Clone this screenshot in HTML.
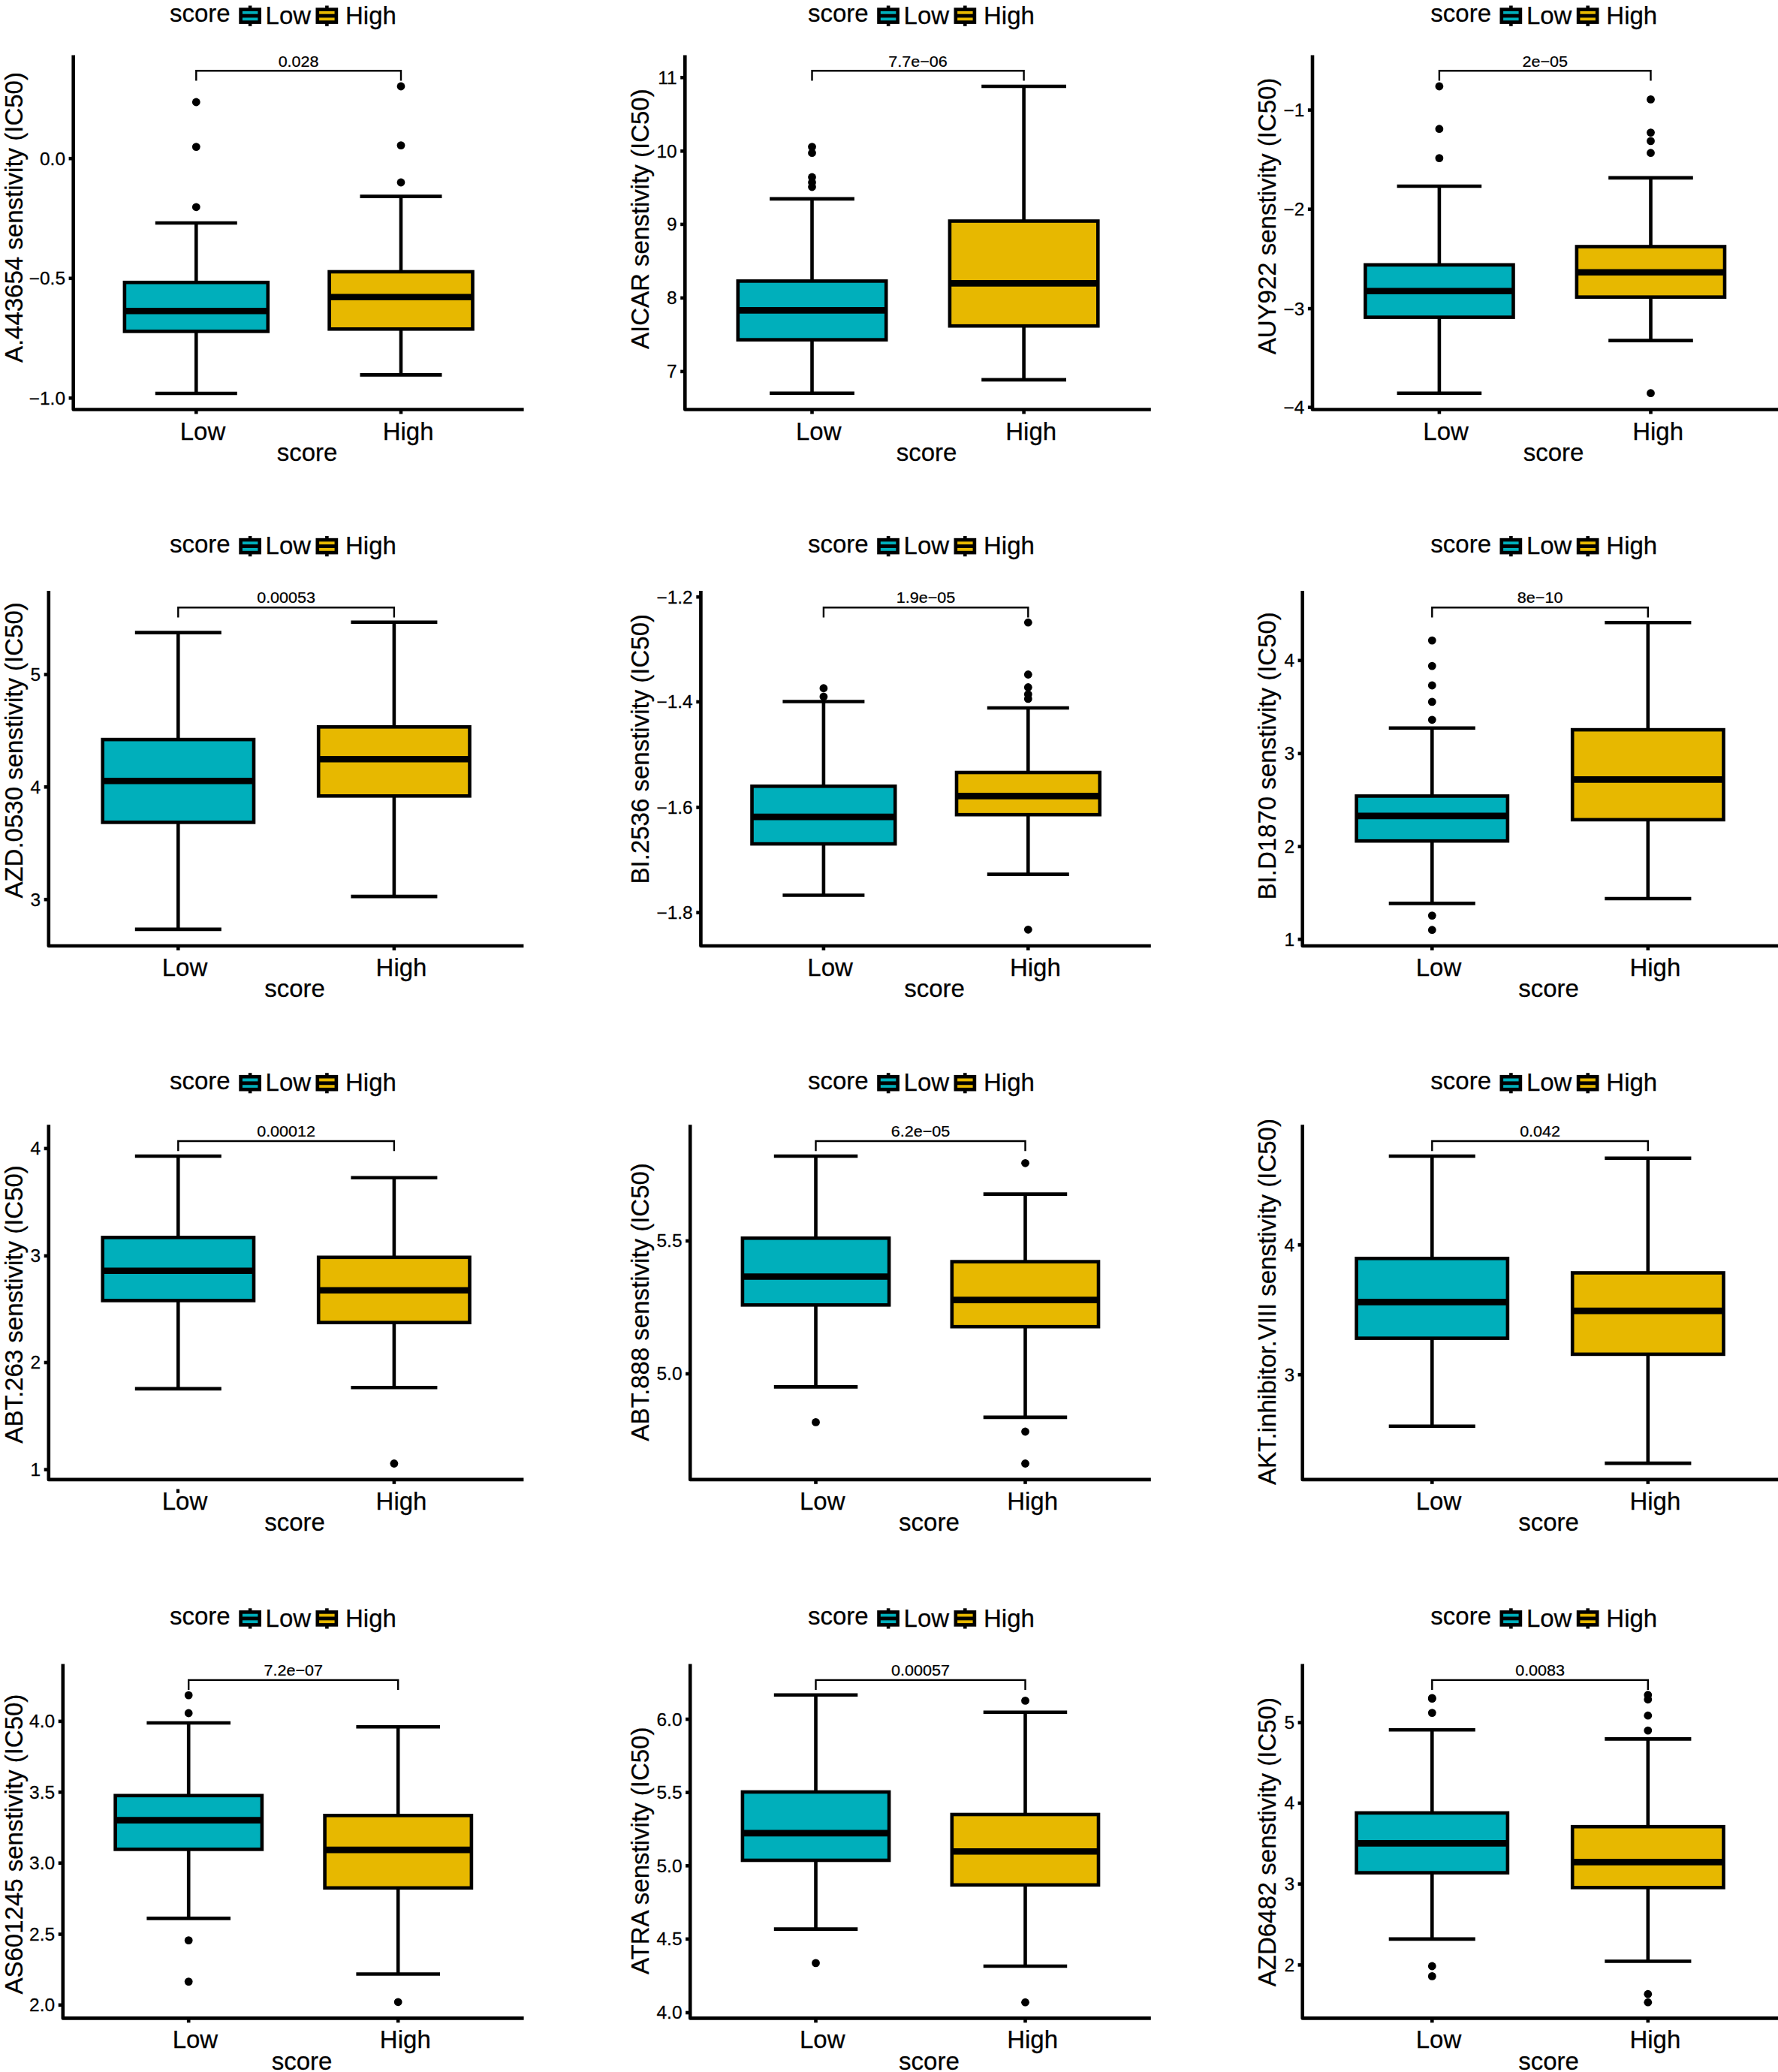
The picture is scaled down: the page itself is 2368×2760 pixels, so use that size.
<!DOCTYPE html>
<html><head><meta charset="utf-8"><title>Drug sensitivity boxplots</title>
<style>
html,body{margin:0;padding:0;background:#fff}
svg{display:block}
svg text{font-family:"Liberation Sans",Arial,Helvetica,sans-serif;fill:#000;stroke:#000;stroke-width:0.25px}
</style></head><body>
<svg width="2368" height="2760" viewBox="0 0 2368 2760">
<rect x="0" y="0" width="2368" height="2760" fill="#fff"/>
<g stroke="#000">
<g>
<text x="226" y="29.1" font-size="33">score</text>
<line x1="333.1" y1="7.5" x2="333.1" y2="12.6" stroke-width="4.6"/>
<line x1="333.1" y1="29.6" x2="333.1" y2="34.8" stroke-width="4.6"/>
<rect x="320.6" y="12.6" width="25.1" height="17" fill="#00AFBB" stroke-width="4.6"/>
<line x1="320.6" y1="21.1" x2="345.7" y2="21.1" stroke-width="4.8"/>
<text x="353.6" y="31.8" font-size="33">Low</text>
<line x1="435.4" y1="7.5" x2="435.4" y2="12.6" stroke-width="4.6"/>
<line x1="435.4" y1="29.6" x2="435.4" y2="34.8" stroke-width="4.6"/>
<rect x="422.8" y="12.6" width="25.1" height="17" fill="#E7B800" stroke-width="4.6"/>
<line x1="422.8" y1="21.1" x2="447.9" y2="21.1" stroke-width="4.8"/>
<text x="460" y="31.8" font-size="33">High</text>
<text transform="translate(30 289.6) rotate(-90)" font-size="33" text-anchor="middle">A.443654 senstivity (IC50)</text>
<line x1="261.3" y1="297" x2="261.3" y2="376.2" stroke-width="4.6"/>
<line x1="261.3" y1="441.4" x2="261.3" y2="524" stroke-width="4.6"/>
<line x1="206.8" y1="297" x2="315.8" y2="297" stroke-width="4.6"/>
<line x1="206.8" y1="524" x2="315.8" y2="524" stroke-width="4.6"/>
<rect x="165.9" y="376.2" width="190.9" height="65.2" fill="#00AFBB" stroke-width="4.6"/>
<line x1="165.9" y1="414.2" x2="356.7" y2="414.2" stroke-width="8.6"/>
<circle cx="261.3" cy="136" r="5.4" fill="#000" stroke="none"/>
<circle cx="261.3" cy="195.6" r="5.4" fill="#000" stroke="none"/>
<circle cx="261.3" cy="275.8" r="5.4" fill="#000" stroke="none"/>
<line x1="534" y1="261.6" x2="534" y2="362" stroke-width="4.6"/>
<line x1="534" y1="438.3" x2="534" y2="499.4" stroke-width="4.6"/>
<line x1="479.5" y1="261.6" x2="588.5" y2="261.6" stroke-width="4.6"/>
<line x1="479.5" y1="499.4" x2="588.5" y2="499.4" stroke-width="4.6"/>
<rect x="438.6" y="362" width="190.9" height="76.3" fill="#E7B800" stroke-width="4.6"/>
<line x1="438.6" y1="395.8" x2="629.4" y2="395.8" stroke-width="8.6"/>
<circle cx="534" cy="115" r="5.4" fill="#000" stroke="none"/>
<circle cx="534" cy="193.6" r="5.4" fill="#000" stroke="none"/>
<circle cx="534" cy="243" r="5.4" fill="#000" stroke="none"/>
<path d="M97.7 73.4V545.5H697.6" fill="none" stroke-width="4.6" stroke-linejoin="round"/>
<line x1="91.6" y1="211.2" x2="97.7" y2="211.2" stroke-width="4.6"/>
<text transform="translate(87 219.6) scale(1.05 1)" font-size="23.3" text-anchor="end">0.0</text>
<line x1="91.6" y1="370.8" x2="97.7" y2="370.8" stroke-width="4.6"/>
<text transform="translate(87 379.2) scale(1.05 1)" font-size="23.3" text-anchor="end">−0.5</text>
<line x1="91.6" y1="530.3" x2="97.7" y2="530.3" stroke-width="4.6"/>
<text transform="translate(87 538.7) scale(1.05 1)" font-size="23.3" text-anchor="end">−1.0</text>
<line x1="261.3" y1="545.5" x2="261.3" y2="551.4" stroke-width="4.6"/>
<line x1="534" y1="545.5" x2="534" y2="551.4" stroke-width="4.6"/>
<text x="270" y="585.9" font-size="33" text-anchor="middle">Low</text>
<text x="543.6" y="585.9" font-size="33" text-anchor="middle">High</text>
<text x="409.1" y="613.8" font-size="33" text-anchor="middle">score</text>
<path d="M261.3 107.4V94.2H534V107.4" fill="none" stroke-width="2.4"/>
<text transform="translate(397.6 89.4) scale(1.027 1)" font-size="21" text-anchor="middle">0.028</text>
</g>
<g>
<text x="1076" y="29.1" font-size="33">score</text>
<line x1="1183.1" y1="7.5" x2="1183.1" y2="12.6" stroke-width="4.6"/>
<line x1="1183.1" y1="29.6" x2="1183.1" y2="34.8" stroke-width="4.6"/>
<rect x="1170.5" y="12.6" width="25.1" height="17" fill="#00AFBB" stroke-width="4.6"/>
<line x1="1170.5" y1="21.1" x2="1195.7" y2="21.1" stroke-width="4.8"/>
<text x="1203.6" y="31.8" font-size="33">Low</text>
<line x1="1285.3" y1="7.5" x2="1285.3" y2="12.6" stroke-width="4.6"/>
<line x1="1285.3" y1="29.6" x2="1285.3" y2="34.8" stroke-width="4.6"/>
<rect x="1272.8" y="12.6" width="25.1" height="17" fill="#E7B800" stroke-width="4.6"/>
<line x1="1272.8" y1="21.1" x2="1297.9" y2="21.1" stroke-width="4.8"/>
<text x="1310" y="31.8" font-size="33">High</text>
<text transform="translate(864.4 291.6) rotate(-90)" font-size="33" text-anchor="middle">AICAR senstivity (IC50)</text>
<line x1="1081.5" y1="264.9" x2="1081.5" y2="374.4" stroke-width="4.6"/>
<line x1="1081.5" y1="452.6" x2="1081.5" y2="523.7" stroke-width="4.6"/>
<line x1="1025.1" y1="264.9" x2="1137.9" y2="264.9" stroke-width="4.6"/>
<line x1="1025.1" y1="523.7" x2="1137.9" y2="523.7" stroke-width="4.6"/>
<rect x="982.8" y="374.4" width="197.4" height="78.2" fill="#00AFBB" stroke-width="4.6"/>
<line x1="982.8" y1="413.4" x2="1180.2" y2="413.4" stroke-width="8.6"/>
<circle cx="1081.5" cy="195.6" r="5.4" fill="#000" stroke="none"/>
<circle cx="1081.5" cy="203.7" r="5.4" fill="#000" stroke="none"/>
<circle cx="1081.5" cy="236" r="5.4" fill="#000" stroke="none"/>
<circle cx="1081.5" cy="243" r="5.4" fill="#000" stroke="none"/>
<circle cx="1081.5" cy="249" r="5.4" fill="#000" stroke="none"/>
<line x1="1363.6" y1="115" x2="1363.6" y2="294.5" stroke-width="4.6"/>
<line x1="1363.6" y1="434.2" x2="1363.6" y2="505.9" stroke-width="4.6"/>
<line x1="1307.2" y1="115" x2="1420" y2="115" stroke-width="4.6"/>
<line x1="1307.2" y1="505.9" x2="1420" y2="505.9" stroke-width="4.6"/>
<rect x="1264.9" y="294.5" width="197.4" height="139.7" fill="#E7B800" stroke-width="4.6"/>
<line x1="1264.9" y1="377.4" x2="1462.3" y2="377.4" stroke-width="8.6"/>
<path d="M912.3 73.4V545.5H1532.8" fill="none" stroke-width="4.6" stroke-linejoin="round"/>
<line x1="906.2" y1="103.3" x2="912.3" y2="103.3" stroke-width="4.6"/>
<text transform="translate(901.6 111.7) scale(1.05 1)" font-size="23.3" text-anchor="end">11</text>
<line x1="906.2" y1="201.3" x2="912.3" y2="201.3" stroke-width="4.6"/>
<text transform="translate(901.6 209.7) scale(1.05 1)" font-size="23.3" text-anchor="end">10</text>
<line x1="906.2" y1="298.9" x2="912.3" y2="298.9" stroke-width="4.6"/>
<text transform="translate(901.6 307.3) scale(1.05 1)" font-size="23.3" text-anchor="end">9</text>
<line x1="906.2" y1="396.9" x2="912.3" y2="396.9" stroke-width="4.6"/>
<text transform="translate(901.6 405.3) scale(1.05 1)" font-size="23.3" text-anchor="end">8</text>
<line x1="906.2" y1="494.9" x2="912.3" y2="494.9" stroke-width="4.6"/>
<text transform="translate(901.6 503.3) scale(1.05 1)" font-size="23.3" text-anchor="end">7</text>
<line x1="1081.5" y1="545.5" x2="1081.5" y2="551.4" stroke-width="4.6"/>
<line x1="1363.6" y1="545.5" x2="1363.6" y2="551.4" stroke-width="4.6"/>
<text x="1090.2" y="585.9" font-size="33" text-anchor="middle">Low</text>
<text x="1373.2" y="585.9" font-size="33" text-anchor="middle">High</text>
<text x="1234" y="613.8" font-size="33" text-anchor="middle">score</text>
<path d="M1081.5 107.4V94.2H1363.6V107.4" fill="none" stroke-width="2.4"/>
<text transform="translate(1222.5 89.4) scale(1.027 1)" font-size="21" text-anchor="middle">7.7e−06</text>
</g>
<g>
<text x="1905.3" y="29.1" font-size="33">score</text>
<line x1="2012.4" y1="7.5" x2="2012.4" y2="12.6" stroke-width="4.6"/>
<line x1="2012.4" y1="29.6" x2="2012.4" y2="34.8" stroke-width="4.6"/>
<rect x="1999.8" y="12.6" width="25.1" height="17" fill="#00AFBB" stroke-width="4.6"/>
<line x1="1999.8" y1="21.1" x2="2025" y2="21.1" stroke-width="4.8"/>
<text x="2032.9" y="31.8" font-size="33">Low</text>
<line x1="2114.7" y1="7.5" x2="2114.7" y2="12.6" stroke-width="4.6"/>
<line x1="2114.7" y1="29.6" x2="2114.7" y2="34.8" stroke-width="4.6"/>
<rect x="2102.1" y="12.6" width="25.1" height="17" fill="#E7B800" stroke-width="4.6"/>
<line x1="2102.1" y1="21.1" x2="2127.2" y2="21.1" stroke-width="4.8"/>
<text x="2139.3" y="31.8" font-size="33">High</text>
<text transform="translate(1699.3 288) rotate(-90)" font-size="33" text-anchor="middle">AUY922 senstivity (IC50)</text>
<line x1="1916.9" y1="248" x2="1916.9" y2="352.8" stroke-width="4.6"/>
<line x1="1916.9" y1="422.6" x2="1916.9" y2="523.7" stroke-width="4.6"/>
<line x1="1860.6" y1="248" x2="1973.2" y2="248" stroke-width="4.6"/>
<line x1="1860.6" y1="523.7" x2="1973.2" y2="523.7" stroke-width="4.6"/>
<rect x="1818.4" y="352.8" width="197.1" height="69.8" fill="#00AFBB" stroke-width="4.6"/>
<line x1="1818.4" y1="387.8" x2="2015.5" y2="387.8" stroke-width="8.6"/>
<circle cx="1916.9" cy="115" r="5.4" fill="#000" stroke="none"/>
<circle cx="1916.9" cy="171.7" r="5.4" fill="#000" stroke="none"/>
<circle cx="1916.9" cy="210.6" r="5.4" fill="#000" stroke="none"/>
<line x1="2198.5" y1="236.9" x2="2198.5" y2="328.5" stroke-width="4.6"/>
<line x1="2198.5" y1="395.7" x2="2198.5" y2="453.6" stroke-width="4.6"/>
<line x1="2142.2" y1="236.9" x2="2254.8" y2="236.9" stroke-width="4.6"/>
<line x1="2142.2" y1="453.6" x2="2254.8" y2="453.6" stroke-width="4.6"/>
<rect x="2099.9" y="328.5" width="197.1" height="67.2" fill="#E7B800" stroke-width="4.6"/>
<line x1="2099.9" y1="362.8" x2="2297" y2="362.8" stroke-width="8.6"/>
<circle cx="2198.5" cy="132.4" r="5.4" fill="#000" stroke="none"/>
<circle cx="2198.5" cy="176.6" r="5.4" fill="#000" stroke="none"/>
<circle cx="2198.5" cy="187.9" r="5.4" fill="#000" stroke="none"/>
<circle cx="2198.5" cy="203.7" r="5.4" fill="#000" stroke="none"/>
<circle cx="2198.5" cy="523.7" r="5.4" fill="#000" stroke="none"/>
<path d="M1748 73.4V545.5H2368" fill="none" stroke-width="4.6" stroke-linejoin="round"/>
<line x1="1741.9" y1="146.6" x2="1748" y2="146.6" stroke-width="4.6"/>
<text transform="translate(1737.3 155) scale(1.05 1)" font-size="23.3" text-anchor="end">−1</text>
<line x1="1741.9" y1="278.7" x2="1748" y2="278.7" stroke-width="4.6"/>
<text transform="translate(1737.3 287.1) scale(1.05 1)" font-size="23.3" text-anchor="end">−2</text>
<line x1="1741.9" y1="411.1" x2="1748" y2="411.1" stroke-width="4.6"/>
<text transform="translate(1737.3 419.5) scale(1.05 1)" font-size="23.3" text-anchor="end">−3</text>
<line x1="1741.9" y1="542.7" x2="1748" y2="542.7" stroke-width="4.6"/>
<text transform="translate(1737.3 551.1) scale(1.05 1)" font-size="23.3" text-anchor="end">−4</text>
<line x1="1916.9" y1="545.5" x2="1916.9" y2="551.4" stroke-width="4.6"/>
<line x1="2198.5" y1="545.5" x2="2198.5" y2="551.4" stroke-width="4.6"/>
<text x="1925.6" y="585.9" font-size="33" text-anchor="middle">Low</text>
<text x="2208.1" y="585.9" font-size="33" text-anchor="middle">High</text>
<text x="2069.1" y="613.8" font-size="33" text-anchor="middle">score</text>
<path d="M1916.9 107.4V94.2H2198.5V107.4" fill="none" stroke-width="2.4"/>
<text transform="translate(2057.7 89.4) scale(1.027 1)" font-size="21" text-anchor="middle">2e−05</text>
</g>
<g>
<text x="226" y="735.6" font-size="33">score</text>
<line x1="333.1" y1="714" x2="333.1" y2="719.1" stroke-width="4.6"/>
<line x1="333.1" y1="736.1" x2="333.1" y2="741.2" stroke-width="4.6"/>
<rect x="320.6" y="719.1" width="25.1" height="17" fill="#00AFBB" stroke-width="4.6"/>
<line x1="320.6" y1="727.6" x2="345.7" y2="727.6" stroke-width="4.8"/>
<text x="353.6" y="738.3" font-size="33">Low</text>
<line x1="435.4" y1="714" x2="435.4" y2="719.1" stroke-width="4.6"/>
<line x1="435.4" y1="736.1" x2="435.4" y2="741.2" stroke-width="4.6"/>
<rect x="422.8" y="719.1" width="25.1" height="17" fill="#E7B800" stroke-width="4.6"/>
<line x1="422.8" y1="727.6" x2="447.9" y2="727.6" stroke-width="4.8"/>
<text x="460" y="738.3" font-size="33">High</text>
<text transform="translate(30 999.4) rotate(-90)" font-size="33" text-anchor="middle">AZD.0530 senstivity (IC50)</text>
<line x1="237.3" y1="842.6" x2="237.3" y2="985.1" stroke-width="4.6"/>
<line x1="237.3" y1="1095.4" x2="237.3" y2="1237.9" stroke-width="4.6"/>
<line x1="179.8" y1="842.6" x2="294.8" y2="842.6" stroke-width="4.6"/>
<line x1="179.8" y1="1237.9" x2="294.8" y2="1237.9" stroke-width="4.6"/>
<rect x="136.7" y="985.1" width="201.3" height="110.3" fill="#00AFBB" stroke-width="4.6"/>
<line x1="136.7" y1="1040.3" x2="338" y2="1040.3" stroke-width="8.6"/>
<line x1="524.9" y1="828.8" x2="524.9" y2="968.3" stroke-width="4.6"/>
<line x1="524.9" y1="1060.3" x2="524.9" y2="1194.1" stroke-width="4.6"/>
<line x1="467.4" y1="828.8" x2="582.4" y2="828.8" stroke-width="4.6"/>
<line x1="467.4" y1="1194.1" x2="582.4" y2="1194.1" stroke-width="4.6"/>
<rect x="424.2" y="968.3" width="201.3" height="92" fill="#E7B800" stroke-width="4.6"/>
<line x1="424.2" y1="1011.3" x2="625.5" y2="1011.3" stroke-width="8.6"/>
<path d="M64.8 787V1260H697.4" fill="none" stroke-width="4.6" stroke-linejoin="round"/>
<line x1="58.7" y1="898.5" x2="64.8" y2="898.5" stroke-width="4.6"/>
<text transform="translate(54.1 906.9) scale(1.05 1)" font-size="23.3" text-anchor="end">5</text>
<line x1="58.7" y1="1048.3" x2="64.8" y2="1048.3" stroke-width="4.6"/>
<text transform="translate(54.1 1056.7) scale(1.05 1)" font-size="23.3" text-anchor="end">4</text>
<line x1="58.7" y1="1198.2" x2="64.8" y2="1198.2" stroke-width="4.6"/>
<text transform="translate(54.1 1206.6) scale(1.05 1)" font-size="23.3" text-anchor="end">3</text>
<line x1="237.3" y1="1260" x2="237.3" y2="1265.9" stroke-width="4.6"/>
<line x1="524.9" y1="1260" x2="524.9" y2="1265.9" stroke-width="4.6"/>
<text x="246" y="1299.7" font-size="33" text-anchor="middle">Low</text>
<text x="534.5" y="1299.7" font-size="33" text-anchor="middle">High</text>
<text x="392.5" y="1327.9" font-size="33" text-anchor="middle">score</text>
<path d="M237.3 822.5V809.3H524.9V822.5" fill="none" stroke-width="2.4"/>
<text transform="translate(381.1 803.3) scale(1.027 1)" font-size="21" text-anchor="middle">0.00053</text>
</g>
<g>
<text x="1076" y="735.6" font-size="33">score</text>
<line x1="1183.1" y1="714" x2="1183.1" y2="719.1" stroke-width="4.6"/>
<line x1="1183.1" y1="736.1" x2="1183.1" y2="741.2" stroke-width="4.6"/>
<rect x="1170.5" y="719.1" width="25.1" height="17" fill="#00AFBB" stroke-width="4.6"/>
<line x1="1170.5" y1="727.6" x2="1195.7" y2="727.6" stroke-width="4.8"/>
<text x="1203.6" y="738.3" font-size="33">Low</text>
<line x1="1285.3" y1="714" x2="1285.3" y2="719.1" stroke-width="4.6"/>
<line x1="1285.3" y1="736.1" x2="1285.3" y2="741.2" stroke-width="4.6"/>
<rect x="1272.8" y="719.1" width="25.1" height="17" fill="#E7B800" stroke-width="4.6"/>
<line x1="1272.8" y1="727.6" x2="1297.9" y2="727.6" stroke-width="4.8"/>
<text x="1310" y="738.3" font-size="33">High</text>
<text transform="translate(864.4 997.7) rotate(-90)" font-size="33" text-anchor="middle">BI.2536 senstivity (IC50)</text>
<line x1="1096.9" y1="934.5" x2="1096.9" y2="1047.3" stroke-width="4.6"/>
<line x1="1096.9" y1="1124.1" x2="1096.9" y2="1192.5" stroke-width="4.6"/>
<line x1="1042.4" y1="934.5" x2="1151.4" y2="934.5" stroke-width="4.6"/>
<line x1="1042.4" y1="1192.5" x2="1151.4" y2="1192.5" stroke-width="4.6"/>
<rect x="1001.5" y="1047.3" width="190.7" height="76.8" fill="#00AFBB" stroke-width="4.6"/>
<line x1="1001.5" y1="1088.1" x2="1192.2" y2="1088.1" stroke-width="8.6"/>
<circle cx="1096.9" cy="916.7" r="5.4" fill="#000" stroke="none"/>
<circle cx="1096.9" cy="928" r="5.4" fill="#000" stroke="none"/>
<line x1="1369.3" y1="943" x2="1369.3" y2="1029" stroke-width="4.6"/>
<line x1="1369.3" y1="1085.2" x2="1369.3" y2="1164.6" stroke-width="4.6"/>
<line x1="1314.8" y1="943" x2="1423.8" y2="943" stroke-width="4.6"/>
<line x1="1314.8" y1="1164.6" x2="1423.8" y2="1164.6" stroke-width="4.6"/>
<rect x="1274" y="1029" width="190.7" height="56.2" fill="#E7B800" stroke-width="4.6"/>
<line x1="1274" y1="1060.4" x2="1464.7" y2="1060.4" stroke-width="8.6"/>
<circle cx="1369.3" cy="829.2" r="5.4" fill="#000" stroke="none"/>
<circle cx="1369.3" cy="898.5" r="5.4" fill="#000" stroke="none"/>
<circle cx="1369.3" cy="915.5" r="5.4" fill="#000" stroke="none"/>
<circle cx="1369.3" cy="924.8" r="5.4" fill="#000" stroke="none"/>
<circle cx="1369.3" cy="930.9" r="5.4" fill="#000" stroke="none"/>
<circle cx="1369.3" cy="1238.3" r="5.4" fill="#000" stroke="none"/>
<path d="M933.4 787V1260H1532.8" fill="none" stroke-width="4.6" stroke-linejoin="round"/>
<line x1="927.3" y1="795.2" x2="933.4" y2="795.2" stroke-width="4.6"/>
<text transform="translate(922.7 803.6) scale(1.05 1)" font-size="23.3" text-anchor="end">−1.2</text>
<line x1="927.3" y1="934.9" x2="933.4" y2="934.9" stroke-width="4.6"/>
<text transform="translate(922.7 943.3) scale(1.05 1)" font-size="23.3" text-anchor="end">−1.4</text>
<line x1="927.3" y1="1075.5" x2="933.4" y2="1075.5" stroke-width="4.6"/>
<text transform="translate(922.7 1083.9) scale(1.05 1)" font-size="23.3" text-anchor="end">−1.6</text>
<line x1="927.3" y1="1215.6" x2="933.4" y2="1215.6" stroke-width="4.6"/>
<text transform="translate(922.7 1224) scale(1.05 1)" font-size="23.3" text-anchor="end">−1.8</text>
<line x1="1096.9" y1="1260" x2="1096.9" y2="1265.9" stroke-width="4.6"/>
<line x1="1369.3" y1="1260" x2="1369.3" y2="1265.9" stroke-width="4.6"/>
<text x="1105.6" y="1299.7" font-size="33" text-anchor="middle">Low</text>
<text x="1378.9" y="1299.7" font-size="33" text-anchor="middle">High</text>
<text x="1244.5" y="1327.9" font-size="33" text-anchor="middle">score</text>
<path d="M1096.9 822.5V809.3H1369.3V822.5" fill="none" stroke-width="2.4"/>
<text transform="translate(1233.1 803.3) scale(1.027 1)" font-size="21" text-anchor="middle">1.9e−05</text>
</g>
<g>
<text x="1905.3" y="735.6" font-size="33">score</text>
<line x1="2012.4" y1="714" x2="2012.4" y2="719.1" stroke-width="4.6"/>
<line x1="2012.4" y1="736.1" x2="2012.4" y2="741.2" stroke-width="4.6"/>
<rect x="1999.8" y="719.1" width="25.1" height="17" fill="#00AFBB" stroke-width="4.6"/>
<line x1="1999.8" y1="727.6" x2="2025" y2="727.6" stroke-width="4.8"/>
<text x="2032.9" y="738.3" font-size="33">Low</text>
<line x1="2114.7" y1="714" x2="2114.7" y2="719.1" stroke-width="4.6"/>
<line x1="2114.7" y1="736.1" x2="2114.7" y2="741.2" stroke-width="4.6"/>
<rect x="2102.1" y="719.1" width="25.1" height="17" fill="#E7B800" stroke-width="4.6"/>
<line x1="2102.1" y1="727.6" x2="2127.2" y2="727.6" stroke-width="4.8"/>
<text x="2139.3" y="738.3" font-size="33">High</text>
<text transform="translate(1699.3 1006.8) rotate(-90)" font-size="33" text-anchor="middle">BI.D1870 senstivity (IC50)</text>
<line x1="1907.3" y1="969.7" x2="1907.3" y2="1060.4" stroke-width="4.6"/>
<line x1="1907.3" y1="1120.2" x2="1907.3" y2="1203.4" stroke-width="4.6"/>
<line x1="1849.7" y1="969.7" x2="1964.8" y2="969.7" stroke-width="4.6"/>
<line x1="1849.7" y1="1203.4" x2="1964.8" y2="1203.4" stroke-width="4.6"/>
<rect x="1806.6" y="1060.4" width="201.3" height="59.8" fill="#00AFBB" stroke-width="4.6"/>
<line x1="1806.6" y1="1086.9" x2="2007.9" y2="1086.9" stroke-width="8.6"/>
<circle cx="1907.3" cy="853.1" r="5.4" fill="#000" stroke="none"/>
<circle cx="1907.3" cy="887.1" r="5.4" fill="#000" stroke="none"/>
<circle cx="1907.3" cy="913" r="5.4" fill="#000" stroke="none"/>
<circle cx="1907.3" cy="934.9" r="5.4" fill="#000" stroke="none"/>
<circle cx="1907.3" cy="958.8" r="5.4" fill="#000" stroke="none"/>
<circle cx="1907.3" cy="1219.6" r="5.4" fill="#000" stroke="none"/>
<circle cx="1907.3" cy="1238.7" r="5.4" fill="#000" stroke="none"/>
<line x1="2194.8" y1="829.2" x2="2194.8" y2="972.1" stroke-width="4.6"/>
<line x1="2194.8" y1="1091.9" x2="2194.8" y2="1197" stroke-width="4.6"/>
<line x1="2137.3" y1="829.2" x2="2252.4" y2="829.2" stroke-width="4.6"/>
<line x1="2137.3" y1="1197" x2="2252.4" y2="1197" stroke-width="4.6"/>
<rect x="2094.2" y="972.1" width="201.3" height="119.8" fill="#E7B800" stroke-width="4.6"/>
<line x1="2094.2" y1="1038.4" x2="2295.5" y2="1038.4" stroke-width="8.6"/>
<path d="M1734.7 787V1260H2368" fill="none" stroke-width="4.6" stroke-linejoin="round"/>
<line x1="1728.6" y1="879.8" x2="1734.7" y2="879.8" stroke-width="4.6"/>
<text transform="translate(1724 888.2) scale(1.05 1)" font-size="23.3" text-anchor="end">4</text>
<line x1="1728.6" y1="1003.8" x2="1734.7" y2="1003.8" stroke-width="4.6"/>
<text transform="translate(1724 1012.2) scale(1.05 1)" font-size="23.3" text-anchor="end">3</text>
<line x1="1728.6" y1="1127.7" x2="1734.7" y2="1127.7" stroke-width="4.6"/>
<text transform="translate(1724 1136.1) scale(1.05 1)" font-size="23.3" text-anchor="end">2</text>
<line x1="1728.6" y1="1251.2" x2="1734.7" y2="1251.2" stroke-width="4.6"/>
<text transform="translate(1724 1259.6) scale(1.05 1)" font-size="23.3" text-anchor="end">1</text>
<line x1="1907.3" y1="1260" x2="1907.3" y2="1265.9" stroke-width="4.6"/>
<line x1="2194.8" y1="1260" x2="2194.8" y2="1265.9" stroke-width="4.6"/>
<text x="1916" y="1299.7" font-size="33" text-anchor="middle">Low</text>
<text x="2204.4" y="1299.7" font-size="33" text-anchor="middle">High</text>
<text x="2062.5" y="1327.9" font-size="33" text-anchor="middle">score</text>
<path d="M1907.3 822.5V809.3H2194.8V822.5" fill="none" stroke-width="2.4"/>
<text transform="translate(2051.1 803.3) scale(1.027 1)" font-size="21" text-anchor="middle">8e−10</text>
</g>
<g>
<text x="226" y="1450.7" font-size="33">score</text>
<line x1="333.1" y1="1429.2" x2="333.1" y2="1434.2" stroke-width="4.6"/>
<line x1="333.1" y1="1451.2" x2="333.1" y2="1456.3" stroke-width="4.6"/>
<rect x="320.6" y="1434.2" width="25.1" height="17" fill="#00AFBB" stroke-width="4.6"/>
<line x1="320.6" y1="1442.8" x2="345.7" y2="1442.8" stroke-width="4.8"/>
<text x="353.6" y="1453.4" font-size="33">Low</text>
<line x1="435.4" y1="1429.2" x2="435.4" y2="1434.2" stroke-width="4.6"/>
<line x1="435.4" y1="1451.2" x2="435.4" y2="1456.3" stroke-width="4.6"/>
<rect x="422.8" y="1434.2" width="25.1" height="17" fill="#E7B800" stroke-width="4.6"/>
<line x1="422.8" y1="1442.8" x2="447.9" y2="1442.8" stroke-width="4.8"/>
<text x="460" y="1453.4" font-size="33">High</text>
<text transform="translate(30 1737.4) rotate(-90)" font-size="33" text-anchor="middle">ABT.263 senstivity (IC50)</text>
<line x1="237.3" y1="1540" x2="237.3" y2="1648.4" stroke-width="4.6"/>
<line x1="237.3" y1="1732.4" x2="237.3" y2="1849.9" stroke-width="4.6"/>
<line x1="179.8" y1="1540" x2="294.8" y2="1540" stroke-width="4.6"/>
<line x1="179.8" y1="1849.9" x2="294.8" y2="1849.9" stroke-width="4.6"/>
<rect x="136.7" y="1648.4" width="201.3" height="84" fill="#00AFBB" stroke-width="4.6"/>
<line x1="136.7" y1="1692.8" x2="338" y2="1692.8" stroke-width="8.6"/>
<line x1="524.9" y1="1568.8" x2="524.9" y2="1674.8" stroke-width="4.6"/>
<line x1="524.9" y1="1761.7" x2="524.9" y2="1848.2" stroke-width="4.6"/>
<line x1="467.4" y1="1568.8" x2="582.4" y2="1568.8" stroke-width="4.6"/>
<line x1="467.4" y1="1848.2" x2="582.4" y2="1848.2" stroke-width="4.6"/>
<rect x="424.2" y="1674.8" width="201.3" height="86.9" fill="#E7B800" stroke-width="4.6"/>
<line x1="424.2" y1="1718.8" x2="625.5" y2="1718.8" stroke-width="8.6"/>
<circle cx="524.9" cy="1949.5" r="5.4" fill="#000" stroke="none"/>
<path d="M64.8 1498.3V1970.9H697.4" fill="none" stroke-width="4.6" stroke-linejoin="round"/>
<line x1="58.7" y1="1529.9" x2="64.8" y2="1529.9" stroke-width="4.6"/>
<text transform="translate(54.1 1538.3) scale(1.05 1)" font-size="23.3" text-anchor="end">4</text>
<line x1="58.7" y1="1672.9" x2="64.8" y2="1672.9" stroke-width="4.6"/>
<text transform="translate(54.1 1681.3) scale(1.05 1)" font-size="23.3" text-anchor="end">3</text>
<line x1="58.7" y1="1815" x2="64.8" y2="1815" stroke-width="4.6"/>
<text transform="translate(54.1 1823.4) scale(1.05 1)" font-size="23.3" text-anchor="end">2</text>
<line x1="58.7" y1="1957.6" x2="64.8" y2="1957.6" stroke-width="4.6"/>
<text transform="translate(54.1 1966) scale(1.05 1)" font-size="23.3" text-anchor="end">1</text>
<line x1="237" y1="1983.5" x2="237" y2="1988.8" stroke-width="4.2"/>
<line x1="524.9" y1="1970.9" x2="524.9" y2="1976.8" stroke-width="4.6"/>
<text x="246" y="2011" font-size="33" text-anchor="middle">Low</text>
<text x="534.5" y="2011" font-size="33" text-anchor="middle">High</text>
<text x="392.5" y="2039" font-size="33" text-anchor="middle">score</text>
<path d="M237.3 1533.2V1520H524.9V1533.2" fill="none" stroke-width="2.4"/>
<text transform="translate(381.1 1513.9) scale(1.027 1)" font-size="21" text-anchor="middle">0.00012</text>
</g>
<g>
<text x="1076" y="1450.7" font-size="33">score</text>
<line x1="1183.1" y1="1429.2" x2="1183.1" y2="1434.2" stroke-width="4.6"/>
<line x1="1183.1" y1="1451.2" x2="1183.1" y2="1456.3" stroke-width="4.6"/>
<rect x="1170.5" y="1434.2" width="25.1" height="17" fill="#00AFBB" stroke-width="4.6"/>
<line x1="1170.5" y1="1442.8" x2="1195.7" y2="1442.8" stroke-width="4.8"/>
<text x="1203.6" y="1453.4" font-size="33">Low</text>
<line x1="1285.3" y1="1429.2" x2="1285.3" y2="1434.2" stroke-width="4.6"/>
<line x1="1285.3" y1="1451.2" x2="1285.3" y2="1456.3" stroke-width="4.6"/>
<rect x="1272.8" y="1434.2" width="25.1" height="17" fill="#E7B800" stroke-width="4.6"/>
<line x1="1272.8" y1="1442.8" x2="1297.9" y2="1442.8" stroke-width="4.8"/>
<text x="1310" y="1453.4" font-size="33">High</text>
<text transform="translate(864.4 1734.4) rotate(-90)" font-size="33" text-anchor="middle">ABT.888 senstivity (IC50)</text>
<line x1="1086.5" y1="1540" x2="1086.5" y2="1649.3" stroke-width="4.6"/>
<line x1="1086.5" y1="1738.3" x2="1086.5" y2="1847.4" stroke-width="4.6"/>
<line x1="1030.8" y1="1540" x2="1142.3" y2="1540" stroke-width="4.6"/>
<line x1="1030.8" y1="1847.4" x2="1142.3" y2="1847.4" stroke-width="4.6"/>
<rect x="988.9" y="1649.3" width="195.2" height="89" fill="#00AFBB" stroke-width="4.6"/>
<line x1="988.9" y1="1700.5" x2="1184.2" y2="1700.5" stroke-width="8.6"/>
<circle cx="1086.5" cy="1894.4" r="5.4" fill="#000" stroke="none"/>
<line x1="1365.5" y1="1590.6" x2="1365.5" y2="1680.6" stroke-width="4.6"/>
<line x1="1365.5" y1="1767.2" x2="1365.5" y2="1887.9" stroke-width="4.6"/>
<line x1="1309.7" y1="1590.6" x2="1421.2" y2="1590.6" stroke-width="4.6"/>
<line x1="1309.7" y1="1887.9" x2="1421.2" y2="1887.9" stroke-width="4.6"/>
<rect x="1267.8" y="1680.6" width="195.2" height="86.6" fill="#E7B800" stroke-width="4.6"/>
<line x1="1267.8" y1="1731.6" x2="1463.1" y2="1731.6" stroke-width="8.6"/>
<circle cx="1365.5" cy="1549.3" r="5.4" fill="#000" stroke="none"/>
<circle cx="1365.5" cy="1907" r="5.4" fill="#000" stroke="none"/>
<circle cx="1365.5" cy="1949.5" r="5.4" fill="#000" stroke="none"/>
<path d="M919.2 1498.3V1970.9H1532.8" fill="none" stroke-width="4.6" stroke-linejoin="round"/>
<line x1="913.1" y1="1653" x2="919.2" y2="1653" stroke-width="4.6"/>
<text transform="translate(908.5 1661.4) scale(1.05 1)" font-size="23.3" text-anchor="end">5.5</text>
<line x1="913.1" y1="1830" x2="919.2" y2="1830" stroke-width="4.6"/>
<text transform="translate(908.5 1838.4) scale(1.05 1)" font-size="23.3" text-anchor="end">5.0</text>
<line x1="1086.5" y1="1970.9" x2="1086.5" y2="1976.8" stroke-width="4.6"/>
<line x1="1365.5" y1="1970.9" x2="1365.5" y2="1976.8" stroke-width="4.6"/>
<text x="1095.2" y="2011" font-size="33" text-anchor="middle">Low</text>
<text x="1375.1" y="2011" font-size="33" text-anchor="middle">High</text>
<text x="1237.4" y="2039" font-size="33" text-anchor="middle">score</text>
<path d="M1086.5 1533.2V1520H1365.5V1533.2" fill="none" stroke-width="2.4"/>
<text transform="translate(1226 1513.9) scale(1.027 1)" font-size="21" text-anchor="middle">6.2e−05</text>
</g>
<g>
<text x="1905.3" y="1450.7" font-size="33">score</text>
<line x1="2012.4" y1="1429.2" x2="2012.4" y2="1434.2" stroke-width="4.6"/>
<line x1="2012.4" y1="1451.2" x2="2012.4" y2="1456.3" stroke-width="4.6"/>
<rect x="1999.8" y="1434.2" width="25.1" height="17" fill="#00AFBB" stroke-width="4.6"/>
<line x1="1999.8" y1="1442.8" x2="2025" y2="1442.8" stroke-width="4.8"/>
<text x="2032.9" y="1453.4" font-size="33">Low</text>
<line x1="2114.7" y1="1429.2" x2="2114.7" y2="1434.2" stroke-width="4.6"/>
<line x1="2114.7" y1="1451.2" x2="2114.7" y2="1456.3" stroke-width="4.6"/>
<rect x="2102.1" y="1434.2" width="25.1" height="17" fill="#E7B800" stroke-width="4.6"/>
<line x1="2102.1" y1="1442.8" x2="2127.2" y2="1442.8" stroke-width="4.8"/>
<text x="2139.3" y="1453.4" font-size="33">High</text>
<text transform="translate(1699.3 1734) rotate(-90)" font-size="33" text-anchor="middle">AKT.inhibitor.VIII senstivity (IC50)</text>
<line x1="1907.3" y1="1540" x2="1907.3" y2="1676.3" stroke-width="4.6"/>
<line x1="1907.3" y1="1782.6" x2="1907.3" y2="1899.7" stroke-width="4.6"/>
<line x1="1849.7" y1="1540" x2="1964.8" y2="1540" stroke-width="4.6"/>
<line x1="1849.7" y1="1899.7" x2="1964.8" y2="1899.7" stroke-width="4.6"/>
<rect x="1806.6" y="1676.3" width="201.3" height="106.3" fill="#00AFBB" stroke-width="4.6"/>
<line x1="1806.6" y1="1734.4" x2="2007.9" y2="1734.4" stroke-width="8.6"/>
<line x1="2194.8" y1="1542.8" x2="2194.8" y2="1695.5" stroke-width="4.6"/>
<line x1="2194.8" y1="1803.9" x2="2194.8" y2="1949.1" stroke-width="4.6"/>
<line x1="2137.3" y1="1542.8" x2="2252.4" y2="1542.8" stroke-width="4.6"/>
<line x1="2137.3" y1="1949.1" x2="2252.4" y2="1949.1" stroke-width="4.6"/>
<rect x="2094.2" y="1695.5" width="201.3" height="108.4" fill="#E7B800" stroke-width="4.6"/>
<line x1="2094.2" y1="1746.1" x2="2295.5" y2="1746.1" stroke-width="8.6"/>
<path d="M1734.7 1498.3V1970.9H2368" fill="none" stroke-width="4.6" stroke-linejoin="round"/>
<line x1="1728.6" y1="1658.3" x2="1734.7" y2="1658.3" stroke-width="4.6"/>
<text transform="translate(1724 1666.7) scale(1.05 1)" font-size="23.3" text-anchor="end">4</text>
<line x1="1728.6" y1="1831.2" x2="1734.7" y2="1831.2" stroke-width="4.6"/>
<text transform="translate(1724 1839.6) scale(1.05 1)" font-size="23.3" text-anchor="end">3</text>
<line x1="1907.3" y1="1970.9" x2="1907.3" y2="1976.8" stroke-width="4.6"/>
<line x1="2194.8" y1="1970.9" x2="2194.8" y2="1976.8" stroke-width="4.6"/>
<text x="1916" y="2011" font-size="33" text-anchor="middle">Low</text>
<text x="2204.4" y="2011" font-size="33" text-anchor="middle">High</text>
<text x="2062.5" y="2039" font-size="33" text-anchor="middle">score</text>
<path d="M1907.3 1533.2V1520H2194.8V1533.2" fill="none" stroke-width="2.4"/>
<text transform="translate(2051.1 1513.9) scale(1.027 1)" font-size="21" text-anchor="middle">0.042</text>
</g>
<g>
<text x="226" y="2163.9" font-size="33">score</text>
<line x1="333.1" y1="2142.3" x2="333.1" y2="2147.4" stroke-width="4.6"/>
<line x1="333.1" y1="2164.4" x2="333.1" y2="2169.5" stroke-width="4.6"/>
<rect x="320.6" y="2147.4" width="25.1" height="17" fill="#00AFBB" stroke-width="4.6"/>
<line x1="320.6" y1="2155.9" x2="345.7" y2="2155.9" stroke-width="4.8"/>
<text x="353.6" y="2166.6" font-size="33">Low</text>
<line x1="435.4" y1="2142.3" x2="435.4" y2="2147.4" stroke-width="4.6"/>
<line x1="435.4" y1="2164.4" x2="435.4" y2="2169.5" stroke-width="4.6"/>
<rect x="422.8" y="2147.4" width="25.1" height="17" fill="#E7B800" stroke-width="4.6"/>
<line x1="422.8" y1="2155.9" x2="447.9" y2="2155.9" stroke-width="4.8"/>
<text x="460" y="2166.6" font-size="33">High</text>
<text transform="translate(30 2456.6) rotate(-90)" font-size="33" text-anchor="middle">AS601245 senstivity (IC50)</text>
<line x1="251.2" y1="2295" x2="251.2" y2="2391.8" stroke-width="4.6"/>
<line x1="251.2" y1="2463.4" x2="251.2" y2="2555.4" stroke-width="4.6"/>
<line x1="195.4" y1="2295" x2="307" y2="2295" stroke-width="4.6"/>
<line x1="195.4" y1="2555.4" x2="307" y2="2555.4" stroke-width="4.6"/>
<rect x="153.6" y="2391.8" width="195.3" height="71.6" fill="#00AFBB" stroke-width="4.6"/>
<line x1="153.6" y1="2424.6" x2="348.8" y2="2424.6" stroke-width="8.6"/>
<circle cx="251.2" cy="2258.1" r="5.4" fill="#000" stroke="none"/>
<circle cx="251.2" cy="2282" r="5.4" fill="#000" stroke="none"/>
<circle cx="251.2" cy="2584.6" r="5.4" fill="#000" stroke="none"/>
<circle cx="251.2" cy="2639.6" r="5.4" fill="#000" stroke="none"/>
<line x1="530.2" y1="2300.2" x2="530.2" y2="2418.3" stroke-width="4.6"/>
<line x1="530.2" y1="2514.8" x2="530.2" y2="2629.5" stroke-width="4.6"/>
<line x1="474.4" y1="2300.2" x2="586" y2="2300.2" stroke-width="4.6"/>
<line x1="474.4" y1="2629.5" x2="586" y2="2629.5" stroke-width="4.6"/>
<rect x="432.6" y="2418.3" width="195.3" height="96.5" fill="#E7B800" stroke-width="4.6"/>
<line x1="432.6" y1="2464.1" x2="627.9" y2="2464.1" stroke-width="8.6"/>
<circle cx="530.2" cy="2666.8" r="5.4" fill="#000" stroke="none"/>
<path d="M83.8 2216.4V2688.4H697.6" fill="none" stroke-width="4.6" stroke-linejoin="round"/>
<line x1="77.7" y1="2292.9" x2="83.8" y2="2292.9" stroke-width="4.6"/>
<text transform="translate(73.1 2301.3) scale(1.05 1)" font-size="23.3" text-anchor="end">4.0</text>
<line x1="77.7" y1="2387.3" x2="83.8" y2="2387.3" stroke-width="4.6"/>
<text transform="translate(73.1 2395.7) scale(1.05 1)" font-size="23.3" text-anchor="end">3.5</text>
<line x1="77.7" y1="2481.7" x2="83.8" y2="2481.7" stroke-width="4.6"/>
<text transform="translate(73.1 2490.1) scale(1.05 1)" font-size="23.3" text-anchor="end">3.0</text>
<line x1="77.7" y1="2576.5" x2="83.8" y2="2576.5" stroke-width="4.6"/>
<text transform="translate(73.1 2584.9) scale(1.05 1)" font-size="23.3" text-anchor="end">2.5</text>
<line x1="77.7" y1="2670.8" x2="83.8" y2="2670.8" stroke-width="4.6"/>
<text transform="translate(73.1 2679.2) scale(1.05 1)" font-size="23.3" text-anchor="end">2.0</text>
<line x1="251.2" y1="2688.4" x2="251.2" y2="2694.3" stroke-width="4.6"/>
<line x1="530.2" y1="2688.4" x2="530.2" y2="2694.3" stroke-width="4.6"/>
<text x="259.9" y="2728.2" font-size="33" text-anchor="middle">Low</text>
<text x="539.8" y="2728.2" font-size="33" text-anchor="middle">High</text>
<text x="402.1" y="2756.6" font-size="33" text-anchor="middle">score</text>
<path d="M251.2 2251.1V2237.9H530.2V2251.1" fill="none" stroke-width="2.4"/>
<text transform="translate(390.7 2232.3) scale(1.027 1)" font-size="21" text-anchor="middle">7.2e−07</text>
</g>
<g>
<text x="1076" y="2163.9" font-size="33">score</text>
<line x1="1183.1" y1="2142.3" x2="1183.1" y2="2147.4" stroke-width="4.6"/>
<line x1="1183.1" y1="2164.4" x2="1183.1" y2="2169.5" stroke-width="4.6"/>
<rect x="1170.5" y="2147.4" width="25.1" height="17" fill="#00AFBB" stroke-width="4.6"/>
<line x1="1170.5" y1="2155.9" x2="1195.7" y2="2155.9" stroke-width="4.8"/>
<text x="1203.6" y="2166.6" font-size="33">Low</text>
<line x1="1285.3" y1="2142.3" x2="1285.3" y2="2147.4" stroke-width="4.6"/>
<line x1="1285.3" y1="2164.4" x2="1285.3" y2="2169.5" stroke-width="4.6"/>
<rect x="1272.8" y="2147.4" width="25.1" height="17" fill="#E7B800" stroke-width="4.6"/>
<line x1="1272.8" y1="2155.9" x2="1297.9" y2="2155.9" stroke-width="4.8"/>
<text x="1310" y="2166.6" font-size="33">High</text>
<text transform="translate(864.4 2465.3) rotate(-90)" font-size="33" text-anchor="middle">ATRA senstivity (IC50)</text>
<line x1="1086.5" y1="2257.7" x2="1086.5" y2="2387" stroke-width="4.6"/>
<line x1="1086.5" y1="2478" x2="1086.5" y2="2569.6" stroke-width="4.6"/>
<line x1="1030.8" y1="2257.7" x2="1142.3" y2="2257.7" stroke-width="4.6"/>
<line x1="1030.8" y1="2569.6" x2="1142.3" y2="2569.6" stroke-width="4.6"/>
<rect x="988.9" y="2387" width="195.2" height="91" fill="#00AFBB" stroke-width="4.6"/>
<line x1="988.9" y1="2441.9" x2="1184.2" y2="2441.9" stroke-width="8.6"/>
<circle cx="1086.5" cy="2614.9" r="5.4" fill="#000" stroke="none"/>
<line x1="1365.5" y1="2280.8" x2="1365.5" y2="2417" stroke-width="4.6"/>
<line x1="1365.5" y1="2510.8" x2="1365.5" y2="2619" stroke-width="4.6"/>
<line x1="1309.7" y1="2280.8" x2="1421.2" y2="2280.8" stroke-width="4.6"/>
<line x1="1309.7" y1="2619" x2="1421.2" y2="2619" stroke-width="4.6"/>
<rect x="1267.8" y="2417" width="195.2" height="93.8" fill="#E7B800" stroke-width="4.6"/>
<line x1="1267.8" y1="2466.3" x2="1463.1" y2="2466.3" stroke-width="8.6"/>
<circle cx="1365.5" cy="2265.4" r="5.4" fill="#000" stroke="none"/>
<circle cx="1365.5" cy="2667.2" r="5.4" fill="#000" stroke="none"/>
<path d="M919.2 2216.4V2688.4H1532.8" fill="none" stroke-width="4.6" stroke-linejoin="round"/>
<line x1="913.1" y1="2290.1" x2="919.2" y2="2290.1" stroke-width="4.6"/>
<text transform="translate(908.5 2298.5) scale(1.05 1)" font-size="23.3" text-anchor="end">6.0</text>
<line x1="913.1" y1="2387.7" x2="919.2" y2="2387.7" stroke-width="4.6"/>
<text transform="translate(908.5 2396.1) scale(1.05 1)" font-size="23.3" text-anchor="end">5.5</text>
<line x1="913.1" y1="2485.3" x2="919.2" y2="2485.3" stroke-width="4.6"/>
<text transform="translate(908.5 2493.7) scale(1.05 1)" font-size="23.3" text-anchor="end">5.0</text>
<line x1="913.1" y1="2582.9" x2="919.2" y2="2582.9" stroke-width="4.6"/>
<text transform="translate(908.5 2591.3) scale(1.05 1)" font-size="23.3" text-anchor="end">4.5</text>
<line x1="913.1" y1="2681" x2="919.2" y2="2681" stroke-width="4.6"/>
<text transform="translate(908.5 2689.4) scale(1.05 1)" font-size="23.3" text-anchor="end">4.0</text>
<line x1="1086.5" y1="2688.4" x2="1086.5" y2="2694.3" stroke-width="4.6"/>
<line x1="1365.5" y1="2688.4" x2="1365.5" y2="2694.3" stroke-width="4.6"/>
<text x="1095.2" y="2728.2" font-size="33" text-anchor="middle">Low</text>
<text x="1375.1" y="2728.2" font-size="33" text-anchor="middle">High</text>
<text x="1237.4" y="2756.6" font-size="33" text-anchor="middle">score</text>
<path d="M1086.5 2251.1V2237.9H1365.5V2251.1" fill="none" stroke-width="2.4"/>
<text transform="translate(1226 2232.3) scale(1.027 1)" font-size="21" text-anchor="middle">0.00057</text>
</g>
<g>
<text x="1905.3" y="2163.9" font-size="33">score</text>
<line x1="2012.4" y1="2142.3" x2="2012.4" y2="2147.4" stroke-width="4.6"/>
<line x1="2012.4" y1="2164.4" x2="2012.4" y2="2169.5" stroke-width="4.6"/>
<rect x="1999.8" y="2147.4" width="25.1" height="17" fill="#00AFBB" stroke-width="4.6"/>
<line x1="1999.8" y1="2155.9" x2="2025" y2="2155.9" stroke-width="4.8"/>
<text x="2032.9" y="2166.6" font-size="33">Low</text>
<line x1="2114.7" y1="2142.3" x2="2114.7" y2="2147.4" stroke-width="4.6"/>
<line x1="2114.7" y1="2164.4" x2="2114.7" y2="2169.5" stroke-width="4.6"/>
<rect x="2102.1" y="2147.4" width="25.1" height="17" fill="#E7B800" stroke-width="4.6"/>
<line x1="2102.1" y1="2155.9" x2="2127.2" y2="2155.9" stroke-width="4.8"/>
<text x="2139.3" y="2166.6" font-size="33">High</text>
<text transform="translate(1699.3 2453.7) rotate(-90)" font-size="33" text-anchor="middle">AZD6482 senstivity (IC50)</text>
<line x1="1907.3" y1="2304.3" x2="1907.3" y2="2414.9" stroke-width="4.6"/>
<line x1="1907.3" y1="2494.6" x2="1907.3" y2="2582.9" stroke-width="4.6"/>
<line x1="1849.7" y1="2304.3" x2="1964.8" y2="2304.3" stroke-width="4.6"/>
<line x1="1849.7" y1="2582.9" x2="1964.8" y2="2582.9" stroke-width="4.6"/>
<rect x="1806.6" y="2414.9" width="201.3" height="79.7" fill="#00AFBB" stroke-width="4.6"/>
<line x1="1806.6" y1="2455.4" x2="2007.9" y2="2455.4" stroke-width="8.6"/>
<circle cx="1907.3" cy="2261.9" r="5.4" fill="#000" stroke="none"/>
<circle cx="1907.3" cy="2262.7" r="5.4" fill="#000" stroke="none"/>
<circle cx="1907.3" cy="2281.6" r="5.4" fill="#000" stroke="none"/>
<circle cx="1907.3" cy="2619" r="5.4" fill="#000" stroke="none"/>
<circle cx="1907.3" cy="2632.4" r="5.4" fill="#000" stroke="none"/>
<line x1="2194.8" y1="2316.4" x2="2194.8" y2="2433.2" stroke-width="4.6"/>
<line x1="2194.8" y1="2514.3" x2="2194.8" y2="2612.5" stroke-width="4.6"/>
<line x1="2137.3" y1="2316.4" x2="2252.4" y2="2316.4" stroke-width="4.6"/>
<line x1="2137.3" y1="2612.5" x2="2252.4" y2="2612.5" stroke-width="4.6"/>
<rect x="2094.2" y="2433.2" width="201.3" height="81.1" fill="#E7B800" stroke-width="4.6"/>
<line x1="2094.2" y1="2480.4" x2="2295.5" y2="2480.4" stroke-width="8.6"/>
<circle cx="2194.8" cy="2257.7" r="5.4" fill="#000" stroke="none"/>
<circle cx="2194.8" cy="2263.8" r="5.4" fill="#000" stroke="none"/>
<circle cx="2194.8" cy="2285.2" r="5.4" fill="#000" stroke="none"/>
<circle cx="2194.8" cy="2305.1" r="5.4" fill="#000" stroke="none"/>
<circle cx="2194.8" cy="2656.2" r="5.4" fill="#000" stroke="none"/>
<circle cx="2194.8" cy="2667.2" r="5.4" fill="#000" stroke="none"/>
<path d="M1734.7 2216.4V2688.4H2368" fill="none" stroke-width="4.6" stroke-linejoin="round"/>
<line x1="1728.6" y1="2294.6" x2="1734.7" y2="2294.6" stroke-width="4.6"/>
<text transform="translate(1724 2303) scale(1.05 1)" font-size="23.3" text-anchor="end">5</text>
<line x1="1728.6" y1="2401.9" x2="1734.7" y2="2401.9" stroke-width="4.6"/>
<text transform="translate(1724 2410.3) scale(1.05 1)" font-size="23.3" text-anchor="end">4</text>
<line x1="1728.6" y1="2509.6" x2="1734.7" y2="2509.6" stroke-width="4.6"/>
<text transform="translate(1724 2518) scale(1.05 1)" font-size="23.3" text-anchor="end">3</text>
<line x1="1728.6" y1="2617.4" x2="1734.7" y2="2617.4" stroke-width="4.6"/>
<text transform="translate(1724 2625.8) scale(1.05 1)" font-size="23.3" text-anchor="end">2</text>
<line x1="1907.3" y1="2688.4" x2="1907.3" y2="2694.3" stroke-width="4.6"/>
<line x1="2194.8" y1="2688.4" x2="2194.8" y2="2694.3" stroke-width="4.6"/>
<text x="1916" y="2728.2" font-size="33" text-anchor="middle">Low</text>
<text x="2204.4" y="2728.2" font-size="33" text-anchor="middle">High</text>
<text x="2062.5" y="2756.6" font-size="33" text-anchor="middle">score</text>
<path d="M1907.3 2251.1V2237.9H2194.8V2251.1" fill="none" stroke-width="2.4"/>
<text transform="translate(2051.1 2232.3) scale(1.027 1)" font-size="21" text-anchor="middle">0.0083</text>
</g>
</g>
</svg>
</body></html>
